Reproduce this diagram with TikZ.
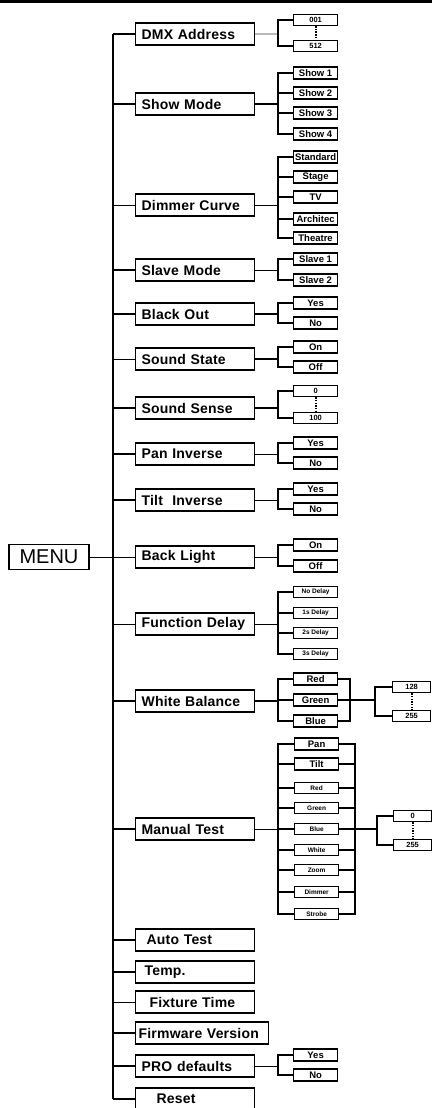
\documentclass[tikz,border=0pt]{standalone}
\usepackage{fontspec}
\setmainfont{Liberation Sans}

\tikzset{
  menubox/.style  = {draw, line width=1.2pt, font=\fontsize{20}{20}\selectfont,
                     minimum width=80pt, minimum height=25pt, inner sep=0pt},
  itembox/.style  = {draw, line width=1.2pt, anchor=west, align=left,
                     font=\fontsize{14}{14}\selectfont\bfseries\addfontfeature{LetterSpace=1.5},
                     text width=107pt, inner xsep=6pt, inner ysep=0pt, minimum height=22pt},
  optbox/.style   = {draw, line width=1.2pt, anchor=west,
                     font=\fontsize{9.5}{9.5}\selectfont\bfseries,
                     minimum width=44pt, minimum height=12pt, inner sep=0.5pt},
  smallbox/.style = {optbox, font=\fontsize{6.5}{6.5}\selectfont\bfseries, minimum height=11.5pt},
  valbox/.style   = {optbox, font=\fontsize{7.5}{7.5}\selectfont\bfseries, minimum height=11pt},
  fat/.style      = {line width=2.2pt},
  slim/.style     = {line width=0.9pt},
  ghost/.style    = {line width=1.2pt, gray!55},
  rnone/.style    = {draw=none},
  bracket/.style  = {line width=1.8pt},
  dots/.style     = {line width=2pt, dash pattern=on 1.5pt off 1.2pt},
}

\begin{document}
\begin{tikzpicture}[x=1pt, y=-1pt]
  \useasboundingbox (0,0) rectangle (432,1108);
  \fill (0,0) rectangle (432,3);

  % menu entries on the bus
  \foreach \name/\txt/\y/\w/\r in {
      dmx/DMX Address/34/fat/ghost, show/Show Mode/104/fat/fat,
      dim/Dimmer Curve/205/slim/slim, slave/Slave Mode/270/fat/slim,
      black/Black Out/314/fat/fat, sstate/Sound State/359/slim/fat,
      ssense/Sound Sense/408/fat/fat, pan/Pan Inverse/454/fat/slim,
      tilt/Tilt\ \ Inverse/500/fat/slim, back/Back Light/557/slim/slim,
      func/Function Delay/624/slim/slim, white/White Balance/701/fat/fat,
      manual/Manual Test/829/fat/slim, auto/\hspace{5pt}Auto Test/940/fat/rnone,
      temp/\hspace{3pt}Temp./972/fat/rnone, fixture/\hspace{8pt}Fixture Time/1002/slim/rnone,
      pro/PRO defaults/1066/fat/slim, reset/\hspace{15pt}Reset/1099/fat/rnone}{
    \node[itembox] (\name) at (135,\y) {\txt};
    \coordinate (\name j) at (278,\y);
    \draw[\w] (\name.west) -- ++(-22pt,0);
    \draw[\r] (\name.east) -- (\name j);
  }
  \node[itembox, text width=127pt, inner xsep=3pt] (firm) at (135,1033) {Firmware Version};
  \draw[fat] (firm.west) -- ++(-22pt,0);

  \draw[line width=1.5pt] ([xshift=-22pt]dmx.west) -- ([xshift=-22pt]reset.west);

  \node[menubox] (menu) at (49,557) {MENU};
  \draw[slim] (menu.east) -- (back.west);

  % plain choices
  \foreach \p/\lab/\y/\s [count=\i] in {
      dmx/001/20/valbox, dmx/512/46/valbox,
      show/Show 1/73/optbox, show/Show 2/93/optbox, show/Show 3/113/optbox, show/Show 4/134/optbox,
      dim/Standard/157/optbox, dim/Stage/177/optbox, dim/TV/197/optbox,
      dim/Architec/219/optbox, dim/Theatre/238/optbox,
      slave/Slave 1/259/optbox, slave/Slave 2/280/optbox,
      black/Yes/303/optbox, black/No/323/optbox,
      sstate/On/347/optbox, sstate/Off/367/optbox,
      ssense/0/391/valbox, ssense/100/418/valbox,
      pan/Yes/443/optbox, pan/No/463/optbox,
      tilt/Yes/489/optbox, tilt/No/509/optbox,
      back/On/545/optbox, back/Off/566/optbox,
      func/No Delay/592/smallbox, func/1s Delay/613/smallbox,
      func/2s Delay/633/smallbox, func/3s Delay/654/smallbox,
      pro/Yes/1055/optbox, pro/No/1075/optbox}{
    \node[\s] (opt\i) at (293,\y) {\lab};
    \draw[bracket] (\p j) |- (opt\i.west);
  }
  \draw[dots] (opt1.south) -- (opt2.north);
  \draw[dots] (opt18.south) -- (opt19.north);

  % white balance
  \foreach \lab/\y [count=\i] in {Red/679, Green/700, Blue/721}{
    \node[optbox] (wb\i) at (293,\y) {\lab};
    \draw[bracket] (whitej) |- (wb\i.west);
  }
  \coordinate (wbj) at (350,700);
  \foreach \i in {1,2,3} \draw[bracket] (wb\i.east) -| (wbj);
  \node[valbox, minimum width=38pt] (wbv1) at (392,687) {128};
  \node[valbox, minimum width=38pt] (wbv2) at (392,716) {255};
  \foreach \i in {1,2} \draw[bracket] (wbj) -| ([xshift=-17pt]wbv\i.west) -- (wbv\i.west);
  \draw[dots] (wbv1.south) -- (wbv2.north);

  % manual test
  \foreach \lab/\y/\s [count=\i] in {Pan/744/optbox, Tilt/764/optbox, Red/788/smallbox,
      Green/808/smallbox, Blue/829/smallbox, White/850/smallbox, Zoom/870/smallbox,
      Dimmer/892/smallbox, Strobe/914/smallbox}{
    \node[\s] (mt\i) at (294,\y) {\lab};
    \draw[bracket] (manualj) |- (mt\i.west);
  }
  \coordinate (mtj) at (355,829);
  \foreach \i in {1,...,9} \draw[bracket] (mt\i.east) -| (mtj);
  \node[valbox, minimum width=38pt] (mtv1) at (393,816) {0};
  \node[valbox, minimum width=38pt] (mtv2) at (393,845) {255};
  \foreach \i in {1,2} \draw[bracket] (mtj) -| ([xshift=-16pt]mtv\i.west) -- (mtv\i.west);
  \draw[dots] (mtv1.south) -- (mtv2.north);
\end{tikzpicture}
\end{document}
